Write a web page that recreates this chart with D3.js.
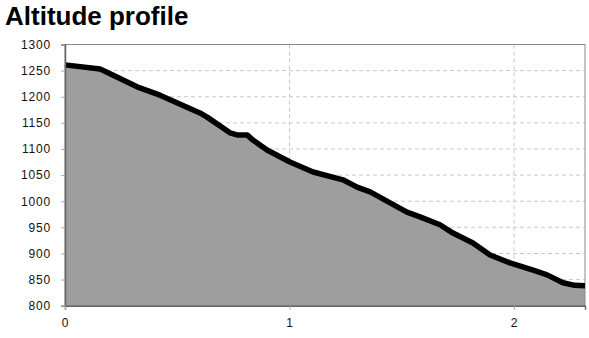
<!DOCTYPE html>
<html>
  <head>
    <meta charset="UTF-8">
    <style>
      body { margin: 0; background: white; font-family: 'Liberation Sans', Arial, sans-serif; }
      .tick text { font-size: 12px; fill: #111; letter-spacing: 0.8px; }
    </style>
  </head>
  <body>
    <svg id="chart" width="589" height="338"></svg>
    <script src="https://d3js.org/d3.v7.min.js"></script>
    <script>
      // distance along route and altitude
      var dist = [0, 0.156, 0.187, 0.321, 0.423, 0.601, 0.633, 0.735, 0.766, 0.811, 0.837, 0.900,
                  1.002, 1.105, 1.238, 1.301, 1.359, 1.448, 1.523, 1.581, 1.670, 1.728, 1.817,
                  1.893, 1.982, 2.085, 2.147, 2.218, 2.270, 2.316];
      var alt = [1261, 1253, 1247, 1219, 1203, 1169, 1161, 1131, 1127, 1127, 1117, 1098,
                 1075, 1056, 1041, 1027, 1018, 997, 979, 970, 955, 939, 920,
                 897, 882, 868, 859, 844, 839, 838];
      var yTicks = [800, 850, 900, 950, 1000, 1050, 1100, 1150, 1200, 1250, 1300];
      var xTicks = [0, 1, 2];
      var title = "Altitude profile";

      var svg = d3.select("#chart"),
          margin = {top: 44.5, right: 4, bottom: 32, left: 65},
          width = 589 - margin.left - margin.right,
          height = 305.7 - margin.top;

      var x = d3.scaleLinear().domain([0, 2.316]).range([0, width]),
          y = d3.scaleLinear().domain([800, 1300]).range([height, 0]);

      svg.append("text")
        .attr("x", 5)
        .attr("y", 25)
        .style("font-size", "26px")
        .style("font-weight", "bold")
        .style("fill", "#000")
        .text(title);

      var g = svg.append("g").attr("transform", "translate(" + margin.left + "," + margin.top + ")");

      /* grid */
      g.selectAll(".hgrid").data(yTicks.slice(1, -1)).enter().append("line")
        .attr("x1", 0).attr("x2", width)
        .attr("y1", function(d) { return y(d); }).attr("y2", function(d) { return y(d); })
        .attr("stroke", "#c8c8c8").attr("stroke-dasharray", "4,3");
      g.selectAll(".vgrid").data(xTicks.slice(1)).enter().append("line")
        .attr("y1", 0).attr("y2", height)
        .attr("x1", function(d) { return x(d); }).attr("x2", function(d) { return x(d); })
        .attr("stroke", "#c8c8c8").attr("stroke-dasharray", "4,3");

      var pts = dist.map(function(d, i) { return [d, alt[i]]; });

      g.append("path")
        .datum(pts)
        .attr("fill", "#9e9e9e")
        .attr("d", d3.area().x(function(d) { return x(d[0]); }).y0(height).y1(function(d) { return y(d[1]); }));

      /* frame */
      g.append("rect")
        .attr("width", width).attr("height", height)
        .attr("fill", "none").attr("stroke", "#8a8a8a").attr("stroke-width", 1);

      g.append("path")
        .datum(pts)
        .attr("fill", "none")
        .attr("stroke", "#000")
        .attr("stroke-width", 5.5)
        .attr("stroke-linejoin", "round")
        .attr("d", d3.line().x(function(d) { return x(d[0]); }).y(function(d) { return y(d[1]); }));

      /* axes */
      var ya = g.append("g")
        .call(d3.axisLeft(y).tickValues(yTicks).tickSize(4).tickPadding(10).tickFormat(d3.format("d")));
      ya.select(".domain").attr("stroke", "#666").attr("stroke-width", 1.5);
      ya.selectAll(".tick line").attr("stroke", "#aaa");

      var xa = g.append("g")
        .attr("transform", "translate(0," + height + ")")
        .call(d3.axisBottom(x).tickValues(xTicks).tickSize(4).tickPadding(9).tickFormat(d3.format("d")));
      xa.select(".domain").attr("stroke", "#666").attr("stroke-width", 1.5);
      xa.selectAll(".tick line").attr("stroke", "#aaa");
      g.selectAll(".tick text").style("font-family", "'Liberation Sans', Arial, sans-serif");
    </script>
  </body>
</html>
